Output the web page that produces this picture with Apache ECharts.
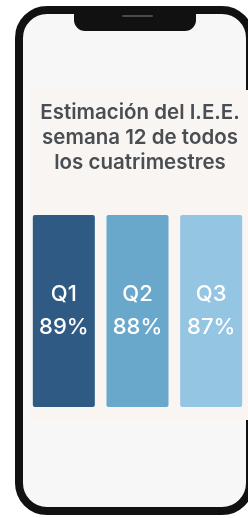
<!doctype html>
<html lang="es">
<head>
    <meta charset="utf-8">
    <title>Estimación del I.E.E.</title>
    <script src="https://cdn.jsdelivr.net/npm/echarts@6/dist/echarts.min.js"></script>
    <style>
        html, body { margin: 0; padding: 0; background: #ffffff; }
        #main { width: 248px; height: 518px; }
    </style>
</head>
<body>
    <div id="main"></div>
    <script>
        // datos del gráfico
        var categories = ['Q1', 'Q2', 'Q3'];
        var percents = [89, 88, 87];
        // las tres barras se dibujan como bloques de igual altura
        var tiles = [1, 1, 1];
        var barColors = ['#2e5a84', '#6aa8cb', '#94c5e3'];

        var myChart = echarts.init(document.getElementById('main'), null, { renderer: 'canvas' });

        var option = {
            backgroundColor: '#ffffff',
            animation: false,
            title: {
                text: 'Estimación del I.E.E.\nsemana 12 de todos\nlos cuatrimestres',
                left: 140,
                top: 100,
                padding: 0,
                textAlign: 'center',
                textStyle: {
                    fontFamily: 'Inter',
                    fontSize: 20.5,
                    fontWeight: 600,
                    lineHeight: 25,
                    color: '#4a4e52'
                }
            },
            graphic: [
                // marco del teléfono
                {
                    type: 'rect', z: -10,
                    shape: { x: 19, y: 10, width: 231, height: 501, r: 28 },
                    style: { fill: '#f7f7f7', stroke: '#111111', lineWidth: 8 }
                },
                // panel de fondo
                {
                    type: 'rect', z: -9,
                    shape: { x: 29, y: 90, width: 219, height: 330 },
                    style: { fill: '#f8f5f3' }
                },
                // notch
                {
                    type: 'rect', z: -8,
                    shape: { x: 74, y: 8, width: 122, height: 23, r: [0, 0, 11, 11] },
                    style: { fill: '#111111' }
                },
                {
                    type: 'rect', z: -7,
                    shape: { x: 122, y: 15, width: 31, height: 2, r: 1 },
                    style: { fill: '#4a4a4a' }
                }
            ],
            grid: { left: 27, right: 0, top: 215, bottom: 111 },
            xAxis: {
                type: 'category',
                data: categories,
                show: false
            },
            yAxis: {
                type: 'value',
                min: 0,
                max: 1,
                show: false
            },
            series: [{
                type: 'bar',
                barWidth: 62,
                data: tiles.map(function (v, i) {
                    return { value: v, itemStyle: { color: barColors[i] } };
                }),
                itemStyle: { borderRadius: 2 },
                label: {
                    show: true,
                    position: 'inside',
                    fontFamily: 'Inter',
                    fontSize: 22,
                    fontWeight: 500,
                    lineHeight: 33,
                    color: '#ffffff',
                    formatter: function (p) {
                        return categories[p.dataIndex] + '\n' + percents[p.dataIndex] + '%';
                    }
                }
            }]
        };

        myChart.setOption(option);
    </script>
</body>
</html>
